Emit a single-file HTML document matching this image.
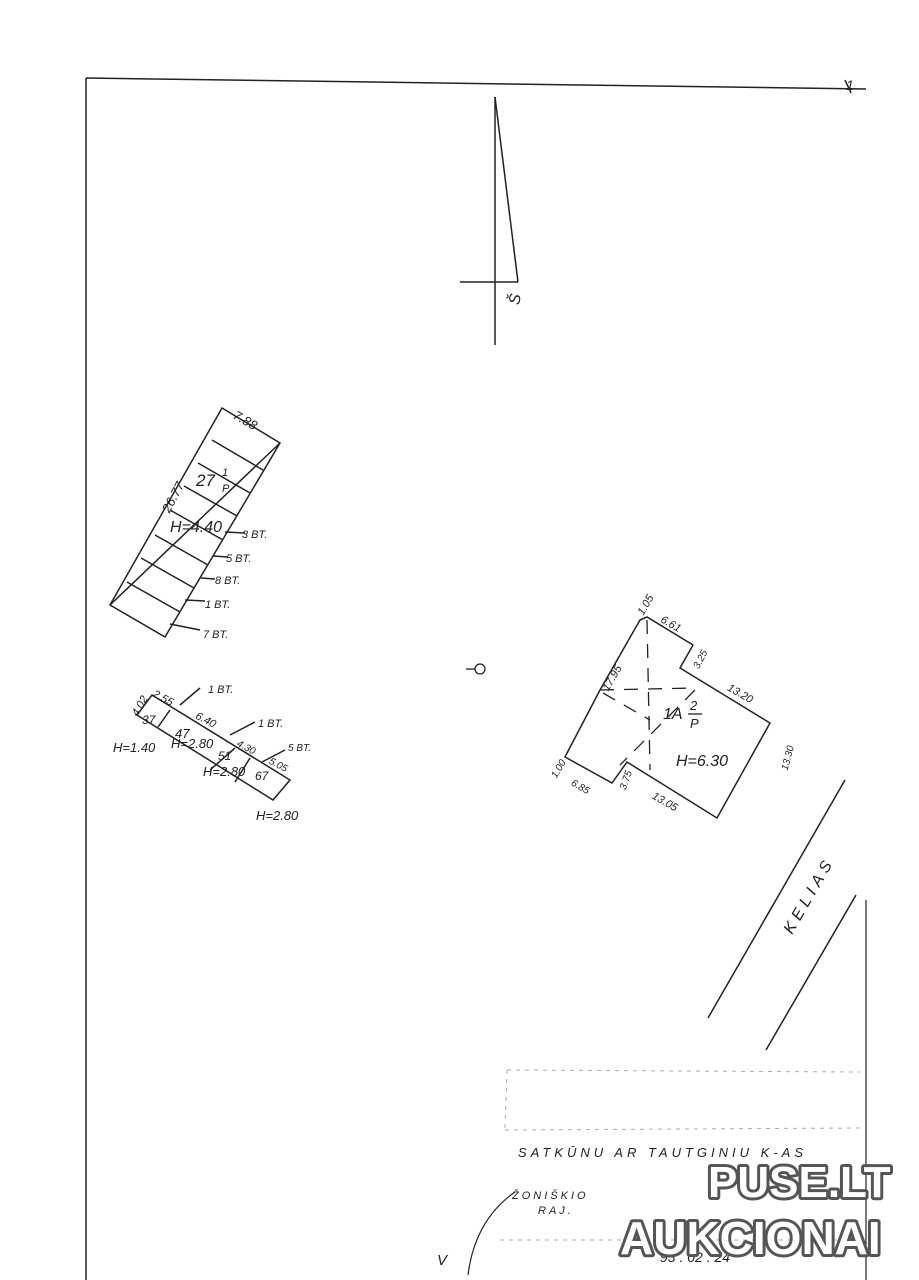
<!DOCTYPE html>
<html><head><meta charset="utf-8"><style>
html,body{margin:0;padding:0;background:#fff;}
svg{display:block}
text{font-family:"Liberation Sans",sans-serif;font-style:italic;fill:#222}
text.wm{fill:#fff;stroke:#555;stroke-width:6px;stroke-linejoin:round;paint-order:stroke;font-style:normal;font-weight:bold}
</style></head><body>
<svg width="919" height="1280" viewBox="0 0 919 1280" xmlns="http://www.w3.org/2000/svg">
<rect width="919" height="1280" fill="#fff"/>
<g stroke="#222" stroke-width="1.5" fill="none">
<line x1="86" y1="78" x2="866" y2="89"/>
<line x1="86" y1="78" x2="86" y2="1280"/>
<line x1="866" y1="900" x2="866" y2="1280" stroke-width="1.2"/>
<line x1="495" y1="97" x2="495" y2="345"/>
<line x1="495" y1="97" x2="518" y2="282"/>
<line x1="460" y1="282" x2="518" y2="282"/>
<polygon points="222,408 280,443 165,637 110,605"/>
<line x1="280" y1="443" x2="110" y2="605"/>
<line x1="212" y1="440" x2="263" y2="470"/>
<line x1="198" y1="463" x2="250" y2="493"/>
<line x1="184" y1="486" x2="237" y2="516"/>
<line x1="170" y1="510" x2="223" y2="540"/>
<line x1="155" y1="535" x2="208" y2="565"/>
<line x1="141" y1="558" x2="194" y2="588"/>
<line x1="127" y1="582" x2="180" y2="612"/>
<line x1="225" y1="532" x2="245" y2="533"/>
<line x1="213" y1="556" x2="228" y2="557"/>
<line x1="201" y1="578" x2="215" y2="579"/>
<line x1="185" y1="600" x2="205" y2="601"/>
<line x1="170" y1="624" x2="200" y2="630"/>
<polygon points="152,695 290,780 273,800 137,715"/>
<line x1="170" y1="710" x2="158" y2="727"/>
<line x1="235" y1="748" x2="210" y2="770"/>
<line x1="250" y1="758" x2="235" y2="782"/>
<line x1="180" y1="705" x2="200" y2="688"/>
<line x1="230" y1="735" x2="255" y2="722"/>
<line x1="262" y1="762" x2="285" y2="750"/>
<polygon points="640,620 647,617 693,645 680,668 770,723 717,818 627,762 612,783 565,757 600,690"/>
<g stroke-dasharray="14,10" stroke-width="1.3">
<line x1="647" y1="620" x2="650" y2="770"/>
<line x1="600" y1="690" x2="695" y2="688"/>
<line x1="603" y1="693" x2="650" y2="720"/>
<line x1="695" y1="690" x2="620" y2="765"/>
</g>
<line x1="708" y1="1018" x2="845" y2="780"/>
<line x1="766" y1="1050" x2="856" y2="895"/>
<g stroke="#aaa" stroke-width="1" stroke-dasharray="4,5">
<line x1="507" y1="1070" x2="860" y2="1072"/>
<line x1="507" y1="1070" x2="505" y2="1128"/>
<line x1="505" y1="1130" x2="860" y2="1128"/>
<line x1="500" y1="1240" x2="860" y2="1240"/>
</g>
<path d="M468 1275 Q475 1220 515 1192" stroke-width="1.2"/>
<line x1="845" y1="80" x2="851" y2="93"/>
</g>
<circle cx="480" cy="669" r="5" fill="none" stroke="#222" stroke-width="1.3"/>
<line x1="466" y1="669" x2="475" y2="669" stroke="#222" stroke-width="1.3"/>
<text x="508" y="308" font-size="16" transform="rotate(-80 512 300)">Š</text>
<g font-size="13">
<text x="232" y="422" transform="rotate(30 240 420)">7.88</text>
<text x="148" y="512" transform="rotate(-62 160 495)">26.77</text>
<text x="196" y="486" font-size="17">27</text>
<text x="222" y="476" font-size="11">1</text>
<text x="222" y="492" font-size="11">P</text>
<text x="170" y="532" font-size="16">H=4.40</text>
<text x="242" y="538" font-size="11">3 BT.</text>
<text x="226" y="562" font-size="11">5 BT.</text>
<text x="215" y="584" font-size="11">8 BT.</text>
<text x="205" y="608" font-size="11">1 BT.</text>
<text x="203" y="638" font-size="11">7 BT.</text>
<text x="208" y="693" font-size="11">1 BT.</text>
<text x="258" y="727" font-size="11">1 BT.</text>
<text x="288" y="751" font-size="10">5 BT.</text>
<text x="152" y="700" font-size="11" transform="rotate(28 160 698)">2.55</text>
<text x="130" y="712" font-size="11" transform="rotate(-60 138 708)">4.02</text>
<text x="142" y="724" font-size="12">37</text>
<text x="175" y="738" font-size="13">47</text>
<text x="195" y="723" font-size="11" transform="rotate(28 205 720)">6.40</text>
<text x="113" y="752" font-size="13">H=1.40</text>
<text x="171" y="748" font-size="13">H=2.80</text>
<text x="218" y="760" font-size="12">51</text>
<text x="236" y="750" font-size="10" transform="rotate(28 245 748)">4.30</text>
<text x="203" y="776" font-size="13">H=2.80</text>
<text x="255" y="780" font-size="12">67</text>
<text x="268" y="768" font-size="10" transform="rotate(28 278 766)">5.05</text>
<text x="256" y="820" font-size="13">H=2.80</text>
<text x="634" y="612" font-size="11" transform="rotate(-60 642 606)">1.05</text>
<text x="660" y="627" font-size="11" transform="rotate(30 670 624)">6.61</text>
<text x="690" y="665" font-size="10" transform="rotate(-62 698 660)">3.25</text>
<text x="726" y="696" font-size="11" transform="rotate(30 738 694)">13.20</text>
<text x="590" y="686" font-size="11" transform="rotate(-60 604 673)">17.95</text>
<text x="663" y="719" font-size="16">1A</text>
<text x="690" y="710" font-size="13">2</text>
<text x="690" y="728" font-size="13">P</text>
<line x1="688" y1="714" x2="702" y2="714" stroke="#222" stroke-width="1.3"/>
<text x="676" y="766" font-size="16">H=6.30</text>
<text x="770" y="772" font-size="10" transform="rotate(-75 778 760)">13.30</text>
<text x="545" y="775" font-size="10" transform="rotate(-60 554 767)">1.00</text>
<text x="570" y="790" font-size="10" transform="rotate(30 580 788)">6.85</text>
<text x="614" y="790" font-size="10" transform="rotate(-70 620 782)">3.75</text>
<text x="652" y="805" font-size="11" transform="rotate(30 665 800)">13.05</text>
<text x="792" y="935" font-size="16" letter-spacing="5" transform="rotate(-60 792 935)">KELIAS</text>
<text x="846" y="90" font-size="14">1</text>
<text x="518" y="1157" font-size="13" letter-spacing="4">SATKŪNU  AR TAUTGINIU K-AS</text>
<text x="512" y="1199" font-size="11" letter-spacing="3">ŽONIŠKIO</text>
<text x="538" y="1214" font-size="11" letter-spacing="3">RAJ.</text>
<text x="437" y="1265" font-size="15">V</text>
<text x="660" y="1262" font-size="14" fill="#555">93 . 02 . 24</text>
</g>
<text class="wm" x="708" y="1197" font-size="44">PUSE.LT</text>
<text class="wm" x="620" y="1254" font-size="46">AUKCIONAI</text>
</svg>
</body></html>
